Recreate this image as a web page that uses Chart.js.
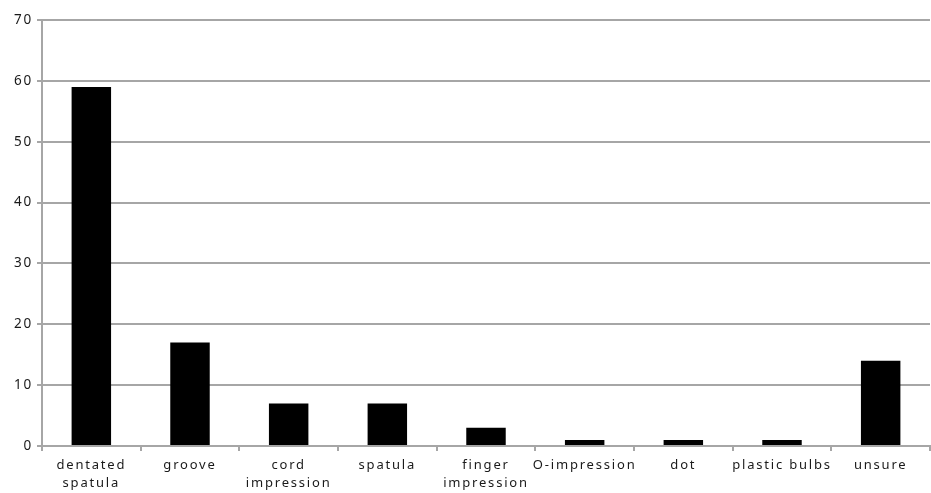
<!DOCTYPE html>
<html>
<head>
<meta charset="utf-8">
<script src="https://cdn.jsdelivr.net/npm/chart.js@4/dist/chart.umd.min.js"></script>
<style>
  html, body { margin: 0; padding: 0; background: #fff; }
  #wrap { width: 931px; height: 493px; }
</style>
</head>
<body>
<div id="wrap"><canvas id="grafico"></canvas></div>
<script>
// Categorias del eje X (con saltos de linea)
const categorias = [
  ['dentated', 'spatula'],
  'groove',
  ['cord', 'impression'],
  'spatula',
  ['finger', 'impression'],
  'O-impression',
  'dot',
  'plastic bulbs',
  'unsure'
];

// Valores de cada barra
const valores = [59, 17, 7, 7, 3, 1, 1, 1, 14];

// Marcas del eje Y
const ticksY = [0, 10, 20, 30, 40, 50, 60, 70];

// Espaciado de letras como en la imagen original
const espaciado = {
  id: 'espaciado',
  beforeDraw(chart) { chart.ctx.letterSpacing = '1.8px'; }
};

const ctx = document.getElementById('grafico').getContext('2d');
new Chart(ctx, {
  type: 'bar',
  data: {
    labels: categorias,
    datasets: [{
      data: valores,
      backgroundColor: '#000',
      borderColor: '#000',
      borderWidth: 0,
      barPercentage: 0.4,
      categoryPercentage: 1
    }]
  },
  options: {
    responsive: true,
    maintainAspectRatio: false,
    animation: false,
    layout: { padding: { top: 20, right: 1, left: 0, bottom: 0 } },
    plugins: {
      legend: { display: false },
      tooltip: { enabled: false }
    },
    scales: {
      x: {
        grid: {
          offset: true,
          drawOnChartArea: false,
          color: '#a6a6a6',
          lineWidth: 2,
          tickLength: 5
        },
        border: { color: '#a6a6a6', width: 2 },
        ticks: {
          color: '#1a1a1a',
          font: { family: 'Noto Sans', size: 13, lineHeight: 1.35 },
          maxRotation: 0,
          autoSkip: false,
          padding: 6
        },
        afterFit(scale) { scale.height = 47; }
      },
      y: {
        min: 0,
        max: 70,
        afterBuildTicks(scale) { scale.ticks = ticksY.map(v => ({ value: v })); },
        grid: {
          color: '#a6a6a6',
          lineWidth: 2,
          tickLength: 5
        },
        border: { color: '#a6a6a6', width: 2 },
        ticks: {
          color: '#1a1a1a',
          font: { family: 'Noto Sans', size: 13.5 },
          padding: 4
        },
        afterFit(scale) { scale.width = 42; }
      }
    }
  },
  plugins: [espaciado]
});
</script>
</body>
</html>
